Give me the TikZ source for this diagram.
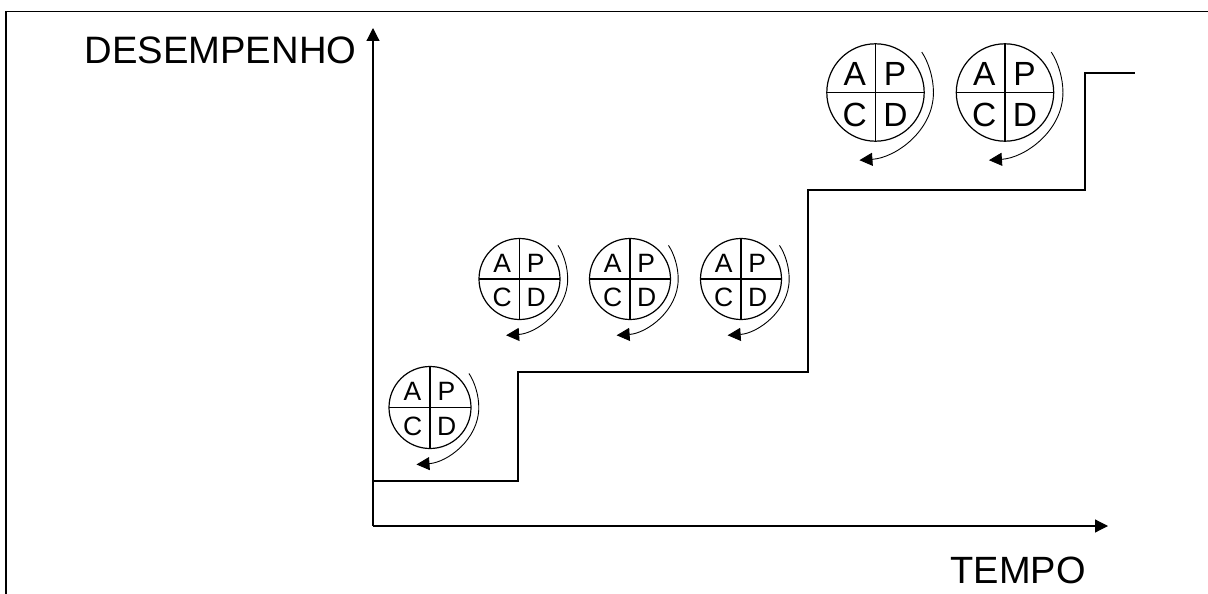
\documentclass[tikz,border=0pt]{standalone}
\usepackage{fontspec}
\setmainfont{Liberation Sans}
\usetikzlibrary{arrows.meta,calc}
\tikzset{
  x=1pt,y=-1pt,
  line/.style={draw=black,line width=1.2pt},
  thin line/.style={draw=black,line width=0.9pt},
  arrowed/.style={-{Triangle[length=13pt,width=13pt]}},
  label text/.style={inner sep=0pt,anchor=base},
}
\newcommand{\pdcacycle}[5]{% name, x, y, radius, font size
  \begin{scope}[shift={(#2,#3)}]
    \node[circle,line,minimum size=#4*2pt,inner sep=0pt,outer sep=0pt] (#1) at (0,0) {};
    \draw[line] (#1.north) -- (#1.south);
    \draw[line] (#1.west) -- (#1.east);
    \node[inner sep=0pt,font=\fontsize{#5}{#5}\selectfont] (#1a) at (-0.425*#4,-0.39*#4) {A};
    \node[inner sep=0pt,font=\fontsize{#5}{#5}\selectfont] (#1p) at (0.40*#4,-0.39*#4) {P};
    \node[inner sep=0pt,font=\fontsize{#5}{#5}\selectfont] (#1c) at (-0.425*#4,0.455*#4) {C};
    \node[inner sep=0pt,font=\fontsize{#5}{#5}\selectfont] (#1d) at (0.41*#4,0.455*#4) {D};
    \coordinate (#1s) at (0.95*#4,-0.83*#4);
    \coordinate (#1m) at (1.19*#4,0);
    \coordinate (#1e) at (-0.33*#4,1.39*#4);
    \draw[thin line,arrowed] (#1s) .. controls (1.09*#4,-0.62*#4) and (1.19*#4,-0.3*#4) .. (#1m)
      .. controls (1.19*#4,0.78*#4) and (0.42*#4,1.34*#4) .. (#1e);
  \end{scope}
}
\begin{document}
\begin{tikzpicture}
\useasboundingbox (0,0) rectangle (1208,594);
\coordinate (fbl) at (6,594);
\coordinate (ftl) at (6,11.5);
\coordinate (ftr) at (1208,11.5);
\draw[line] (fbl) -- (ftl) -- (ftr);
\coordinate (origin) at (373,526);
\coordinate (ytip) at (373,28);
\coordinate (xtip) at (1108,526);
\draw[line,arrowed] (origin) -- (ytip);
\draw[line,arrowed] (origin) -- (xtip);
\node[label text,font=\fontsize{38.2}{38.2}\selectfont] (ylab) at (220.5,64) {DESEMPENHO};
\node[label text,font=\fontsize{38}{38}\selectfont] (xlab) at (1018,583.5) {TEMPO};
\coordinate (s0) at (373,481);
\coordinate (s1) at (518,481);
\coordinate (s2) at (518,372);
\coordinate (s3) at (808,372);
\coordinate (s4) at (808,190);
\coordinate (s5) at (1085,190);
\coordinate (s6) at (1085,73);
\coordinate (s7) at (1135,73);
\draw[line] (s0) -- (s1) -- (s2) -- (s3) -- (s4) -- (s5) -- (s6) -- (s7);
\pdcacycle{c1}{430}{407.5}{41}{26.5}
\pdcacycle{c2}{519.5}{279}{40.5}{26.5}
\pdcacycle{c3}{630}{279}{40.5}{26.5}
\pdcacycle{c4}{741}{279}{40.5}{26.5}
\pdcacycle{c5}{875.5}{92.5}{48.7}{33.5}
\pdcacycle{c6}{1005}{92.5}{48.7}{33.5}
\end{tikzpicture}
\end{document}
